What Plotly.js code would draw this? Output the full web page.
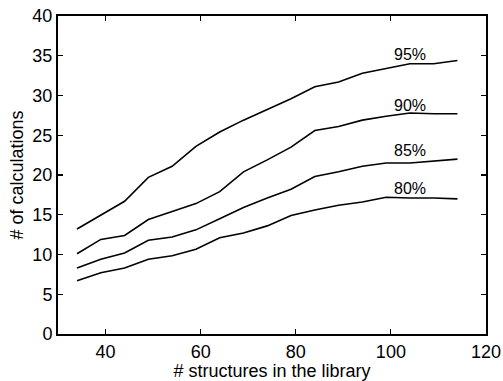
<!DOCTYPE html>
<html>
<head>
<meta charset="utf-8">
<script src="https://cdn.plot.ly/plotly-3.0.1.min.js"></script>
<style>html,body{margin:0;padding:0;background:#fff;}#chart{width:503px;height:381px;}</style>
</head>
<body>
<div id="chart"></div>
<script>
const structures = [34, 39, 44, 49, 54, 59, 64, 69, 74, 79, 84, 89, 94, 99, 104, 109, 114];
const calc95 = [13.2, 14.9, 16.7, 19.7, 21.1, 23.6, 25.4, 26.9, 28.2, 29.6, 31.1, 31.7, 32.8, 33.4, 34.0, 34.0, 34.4];
const calc90 = [10.1, 11.9, 12.4, 14.4, 15.4, 16.4, 17.9, 20.4, 21.9, 23.5, 25.6, 26.1, 26.9, 27.4, 27.8, 27.7, 27.7];
const calc85 = [8.3, 9.4, 10.2, 11.8, 12.2, 13.1, 14.5, 15.9, 17.1, 18.2, 19.8, 20.4, 21.1, 21.5, 21.5, 21.75, 22.0];
const calc80 = [6.7, 7.7, 8.3, 9.4, 9.85, 10.65, 12.1, 12.7, 13.6, 14.9, 15.6, 16.2, 16.6, 17.2, 17.1, 17.1, 17.0];
const seriesNames = ["95%", "90%", "85%", "80%"];
const labelX = [104, 104, 104, 104];
const labelY = [35.2, 28.7, 23.1, 18.3];
const xTicks = [40, 60, 80, 100, 120];
const yTicks = [0, 5, 10, 15, 20, 25, 30, 35, 40];

const allSeries = [calc95, calc90, calc85, calc80];
const font = "Liberation Sans, Arial, Helvetica, sans-serif";
const traces = allSeries.map((ys, i) => ({
  x: structures, y: ys, type: "scatter", mode: "lines", name: seriesNames[i],
  line: {color: "#000", width: 1.6}, hoverinfo: "skip"
}));
const annotations = seriesNames.map((t, i) => ({
  x: labelX[i], y: labelY[i], xref: "x", yref: "y", text: t, showarrow: false,
  font: {family: font, size: 16, color: "#000"}
}));
const axisCommon = {
  showgrid: false, zeroline: false, showline: true, linecolor: "#000", linewidth: 2,
  mirror: "ticks", ticks: "inside", ticklen: 5, tickwidth: 1.2, tickcolor: "#000",
  tickfont: {family: font, size: 18, color: "#000"}
};
const layout = {
  width: 503, height: 381,
  margin: {l: 58, r: 17, t: 16, b: 47},
  paper_bgcolor: "#fff", plot_bgcolor: "#fff",
  showlegend: false,
  xaxis: Object.assign({}, axisCommon, {
    range: [30, 120], tickmode: "array", tickvals: xTicks,
    title: {text: "# structures in the library", font: {family: font, size: 18, color: "#000"}, standoff: 0}
  }),
  yaxis: Object.assign({}, axisCommon, {
    range: [0, 40], tickmode: "array", tickvals: yTicks,
    title: {text: "# of calculations", font: {family: font, size: 18, color: "#000"}, standoff: 4}
  }),
  annotations: annotations
};
Plotly.newPlot("chart", traces, layout, {displayModeBar: false, staticPlot: true});
</script>
</body>
</html>
